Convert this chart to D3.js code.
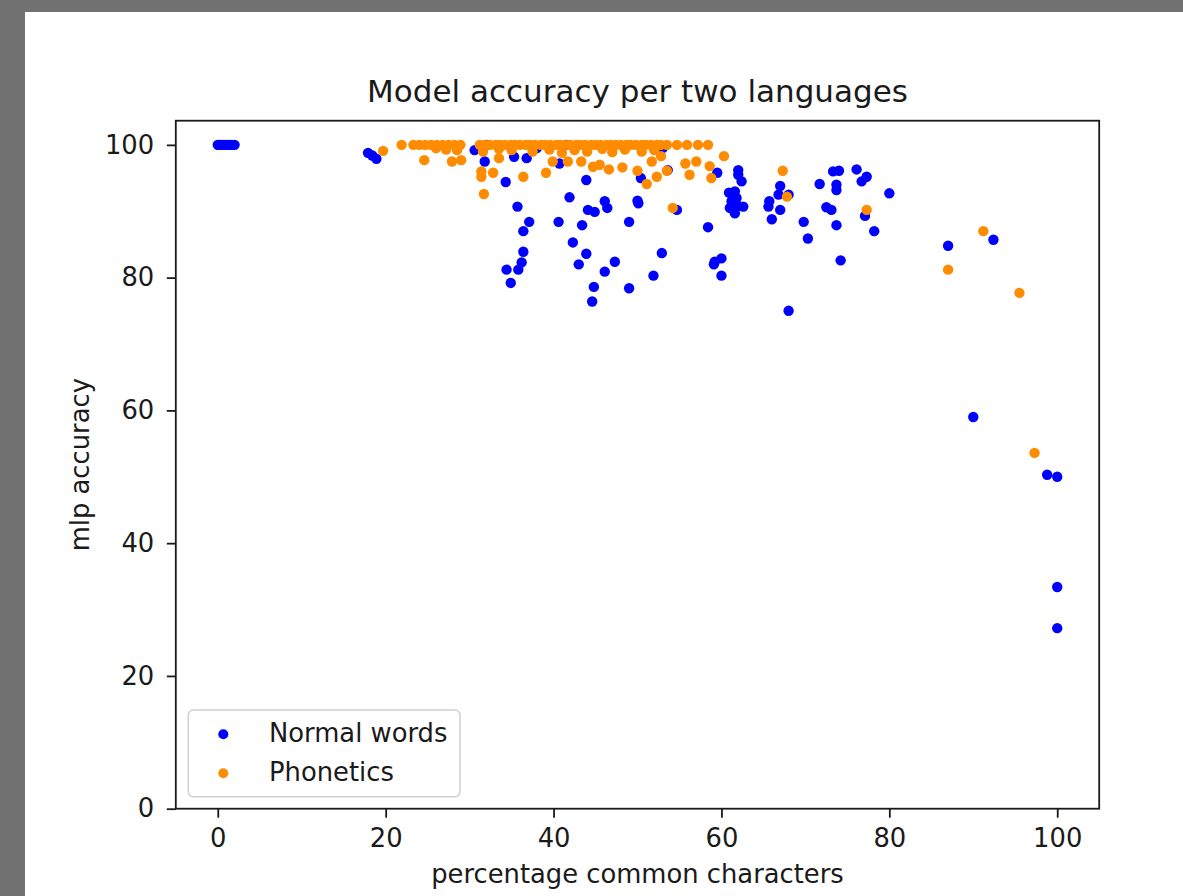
<!DOCTYPE html>
<html lang="en">

<head>
    <meta charset="utf-8">
    <title>Model accuracy per two languages</title>
    <script type="text/javascript" src="https://d3js.org/d3.v7.min.js"></script>
    <style>
        body { margin: 0; background: #717171; }
        text { font-family: "DejaVu Sans", sans-serif; fill: #1a1a1a; }
    </style>
</head>

<body>
    <div id="container"></div>
    <script type="text/javascript">
        var w = 1183;
        var h = 896;

        // percentage common characters / mlp accuracy, normal words
        var normalX = [0, 0.2, 0.4, 0.7, 0.9, 1.2, 1.4, 1.7, 2.0,
            17.9, 18.4, 18.9,
            30.6, 31.8, 32.0, 35.3, 34.3, 36.8, 35.7, 37.1, 36.4, 36.4, 36.2, 35.8, 34.4, 34.9,
            38.0, 41.5, 47.0, 53.0,
            40.7, 43.9, 41.9, 40.6, 43.4, 44.1, 44.9, 46.1, 46.4, 42.3, 43.9, 43.0, 44.8, 44.6, 46.1, 47.3,
            49.0, 50.0, 50.1, 49.0, 51.9, 52.9, 50.4, 53.6, 54.7, 58.4, 59.2, 60.0, 59.1, 60.0, 59.5,
            62.0, 62.0, 62.4, 60.9, 61.6, 61.8, 61.2, 62.6, 61.0, 61.6, 62.0,
            65.7, 65.6, 67.0, 66.0, 67.0, 66.8, 68.0, 68.0, 69.8, 70.3, 71.7, 72.5, 73.1, 73.7,
            73.3, 74.0, 73.7, 73.7, 74.2, 76.1, 76.7, 77.3, 77.1, 78.2, 80.0,
            87.0, 92.4, 90.0, 98.8, 100, 100, 100];
        var normalY = [100, 100, 100, 100, 100, 100, 100, 100, 100,
            98.8, 98.4, 97.9,
            99.2, 97.5, 100, 98.2, 94.4, 98.0, 90.7, 88.4, 87.0, 83.9, 82.3, 81.2, 81.2, 79.2,
            99.5, 100, 99.6, 99.5,
            97.2, 94.7, 92.1, 88.4, 87.9, 90.2, 89.9, 91.5, 90.5, 85.3, 83.6, 82.0, 78.6, 76.4, 80.9, 82.4,
            88.4, 91.6, 91.2, 78.4, 80.3, 83.7, 95.0, 96.2, 90.2, 87.6, 82.4, 82.9, 82.0, 80.3, 95.8,
            96.2, 95.5, 94.5, 92.8, 93.0, 92.0, 91.5, 90.7, 90.5, 89.7, 90.8,
            91.5, 90.7, 90.2, 88.8, 93.8, 92.5, 92.5, 75.0, 88.4, 85.9, 94.1, 90.6, 90.2, 87.9,
            96.0, 96.1, 94.0, 93.2, 82.6, 96.3, 94.5, 95.2, 89.3, 87.0, 92.7,
            84.8, 85.7, 59.0, 50.3, 50.0, 33.4, 27.2];

        // phonetics
        var phonX = [19.7, 21.9,
            23.3, 24.0, 24.7, 25.4, 26.1, 26.8, 27.5, 28.2, 28.9,
            24.6, 27.2, 26.0, 28.5, 27.9, 29.0,
            31.2, 31.8, 32.4, 33.1, 33.6, 34.2, 34.9, 35.4, 36.0, 36.7, 37.2, 37.8, 38.5, 39.0, 39.6,
            40.3, 40.8, 41.4, 42.0, 42.7, 43.2, 43.8, 44.5, 45.0, 45.6, 46.3, 46.8, 47.4, 48.0, 48.7,
            49.2, 49.8, 50.5, 51.0, 51.6, 52.3, 52.8, 53.5,
            31.6, 33.5, 35.0, 37.5, 39.5, 41.0, 42.5, 44.0, 45.8, 47.0, 48.5, 50.5, 52.0,
            31.4, 31.4, 31.7, 32.8, 33.5, 36.4, 39.1, 39.9, 41.7, 43.3, 44.7, 45.5, 46.6, 48.2,
            50.0, 51.1, 52.3, 53.5, 54.2, 51.7, 52.8, 55.7, 57.0, 56.2, 58.6, 58.8, 60.3,
            54.7, 55.9, 57.2, 58.4,
            67.3, 67.8, 77.3, 87.0, 91.2, 95.5, 97.3];
        var phonY = [99.1, 100,
            100, 100, 100, 100, 100, 100, 100, 100, 100,
            97.7, 99.3, 99.5, 99.2, 97.5, 97.7,
            100, 100, 100, 100, 100, 100, 100, 100, 100, 100, 100, 100, 100, 100, 100,
            100, 100, 100, 100, 100, 100, 100, 100, 100, 100, 100, 100, 100, 100, 100,
            100, 100, 100, 100, 100, 100, 100, 100,
            99.0, 99.4, 99.2, 99.0, 99.3, 98.8, 99.2, 99.0, 99.4, 98.9, 99.3, 99.0, 99.2,
            96.0, 95.2, 92.6, 95.8, 98.0, 95.2, 95.8, 97.5, 97.5, 97.5, 96.7, 97.0, 96.3, 96.6,
            96.1, 94.1, 95.2, 96.1, 90.5, 97.5, 98.3, 97.2, 97.5, 95.5, 96.8, 95.0, 98.3,
            100, 100, 100, 100,
            96.1, 92.2, 90.2, 81.2, 87.0, 77.7, 53.6];

        var xTicks = [0, 20, 40, 60, 80, 100];
        var yTicks = [0, 20, 40, 60, 80, 100];
        var seriesNames = ["Normal words", "Phonetics"];
        var seriesColors = ["#0000ff", "#ff8c00"];

        // plot box (window.top is reserved, so no "top" here)
        var plotLeft = 175.8, plotRight = 1099.2, plotTop = 120.7, plotBottom = 808.7;

        const svg = d3.select("div#container")
            .append("svg")
            .attr("width", w)
            .attr("height", h);

        svg.append("rect").attr("width", w).attr("height", h).attr("fill", "#717171");
        svg.append("rect").attr("x", 25).attr("y", 12).attr("width", w - 25).attr("height", h - 12).attr("fill", "#ffffff");

        var x = d3.scaleLinear().domain([-5, 105]).range([plotLeft, plotRight]);
        var y = d3.scaleLinear().domain([0, 103.64]).range([plotBottom, plotTop]);

        // points, normal words first so phonetics sit on top
        var normal = normalX.map((d, i) => [d, normalY[i]]);
        var phon = phonX.map((d, i) => [d, phonY[i]]);

        svg.append("g").selectAll("circle")
            .data(normal)
            .enter()
            .append("circle")
            .attr("cx", (d) => x(d[0]))
            .attr("cy", (d) => y(d[1]))
            .attr("r", 5.2)
            .attr("fill", seriesColors[0]);

        svg.append("g").selectAll("circle")
            .data(phon)
            .enter()
            .append("circle")
            .attr("cx", (d) => x(d[0]))
            .attr("cy", (d) => y(d[1]))
            .attr("r", 5.2)
            .attr("fill", seriesColors[1]);

        // axes
        var xAxis = svg.append("g")
            .attr("transform", "translate(0," + plotBottom + ")")
            .call(d3.axisBottom(x).tickValues(xTicks).tickSize(9).tickPadding(11).tickSizeOuter(0));
        var yAxis = svg.append("g")
            .attr("transform", "translate(" + plotLeft + ",0)")
            .call(d3.axisLeft(y).tickValues(yTicks).tickSize(9).tickPadding(12.6).tickSizeOuter(0));

        [xAxis, yAxis].forEach(function (g) {
            g.select(".domain").remove();
            g.selectAll("line").attr("stroke", "#1a1a1a").attr("stroke-width", 1.8);
            g.selectAll("text").style("font-size", "25.8px").attr("fill", "#1a1a1a");
        });

        // frame
        svg.append("rect")
            .attr("x", plotLeft)
            .attr("y", plotTop)
            .attr("width", plotRight - plotLeft)
            .attr("height", plotBottom - plotTop)
            .attr("fill", "none")
            .attr("stroke", "#1a1a1a")
            .attr("stroke-width", 1.8);

        // labels
        svg.append("text")
            .attr("x", (plotLeft + plotRight) / 2)
            .attr("y", 102)
            .attr("text-anchor", "middle")
            .style("font-size", "31px")
            .text("Model accuracy per two languages");

        svg.append("text")
            .attr("x", (plotLeft + plotRight) / 2)
            .attr("y", 883)
            .attr("text-anchor", "middle")
            .style("font-size", "25.8px")
            .text("percentage common characters");

        svg.append("text")
            .attr("transform", "translate(89," + (plotTop + plotBottom) / 2 + ") rotate(-90)")
            .attr("text-anchor", "middle")
            .style("font-size", "25.8px")
            .text("mlp accuracy");

        // legend
        var legend = svg.append("g");
        legend.append("rect")
            .attr("x", 188.3)
            .attr("y", 710)
            .attr("width", 271.7)
            .attr("height", 86.7)
            .attr("rx", 5)
            .attr("fill", "#ffffff")
            .attr("fill-opacity", 0.8)
            .attr("stroke", "#d0d0d0")
            .attr("stroke-width", 1.5);

        legend.selectAll("circle")
            .data(seriesNames)
            .enter()
            .append("circle")
            .attr("cx", 223.3)
            .attr("cy", (d, i) => 734.3 + i * 39)
            .attr("r", 5)
            .attr("fill", (d, i) => seriesColors[i]);

        legend.selectAll("text")
            .data(seriesNames)
            .enter()
            .append("text")
            .attr("x", 269)
            .attr("y", (d, i) => 742 + i * 38.5)
            .style("font-size", "25.8px")
            .text((d) => d);
    </script>
</body>

</html>
